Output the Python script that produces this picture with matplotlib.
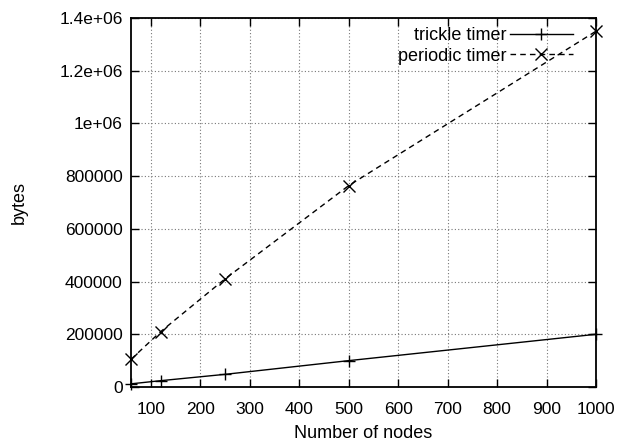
import matplotlib
matplotlib.use("Agg")
import matplotlib.pyplot as plt

nodes = [60, 120, 250, 500, 1000]
trickle = [12000, 24000, 48000, 100000, 200000]
periodic = [105000, 210000, 410000, 764000, 1350000]
xticks = [100, 200, 300, 400, 500, 600, 700, 800, 900, 1000]
yticks = [0, 200000, 400000, 600000, 800000, 1000000, 1200000, 1400000]
ytick_labels = ["0", "200000", "400000", "600000", "800000", "1e+06", "1.2e+06", "1.4e+06"]

plt.rcParams['font.family'] = ['Liberation Sans', 'DejaVu Sans']
fig = plt.figure(figsize=(6.2, 4.47), dpi=100)
ax = fig.add_axes([131/620, 60/447, (596-131)/620, (387-18)/447])

ax.plot(nodes, trickle, color='black', lw=1.0, marker='+', ms=8, mew=1.0,
        label='trickle timer', clip_on=False, zorder=3)
ax.plot(nodes, periodic, color='black', lw=1.0, ls=(0, (4, 3)), marker='x', ms=8, mew=1.0,
        label='periodic timer', clip_on=False, zorder=3)

ax.set_xlim(60, 1000)
ax.set_ylim(0, 1400000)
ax.set_xticks(xticks)
ax.set_xticklabels([str(v) for v in xticks])
ax.set_yticks(yticks)
ax.set_yticklabels(ytick_labels)
ax.tick_params(direction='in', length=6, width=1.0, top=True, right=True,
               labelsize=12.5, colors='black')
ax.tick_params(axis='x', pad=10.5)
ax.tick_params(axis='y', pad=6)
ax.grid(True, ls=(0, (1, 2)), color='#777777', lw=0.8)
for s in ax.spines.values():
    s.set_linewidth(1.3)

ax.set_xlabel('Number of nodes', fontsize=13, labelpad=6)
ax.set_ylabel('bytes', fontsize=13, labelpad=23)

leg = ax.legend(loc='upper right', bbox_to_anchor=((573-131)/465, (387-27)/369),
                frameon=False, markerfirst=False, fontsize=13,
                handlelength=3.5, handletextpad=0.2, labelspacing=0.2,
                borderaxespad=0, borderpad=0)
for t in leg.get_texts():
    t.set_ha('right')

fig.savefig('out.png', dpi=100)
